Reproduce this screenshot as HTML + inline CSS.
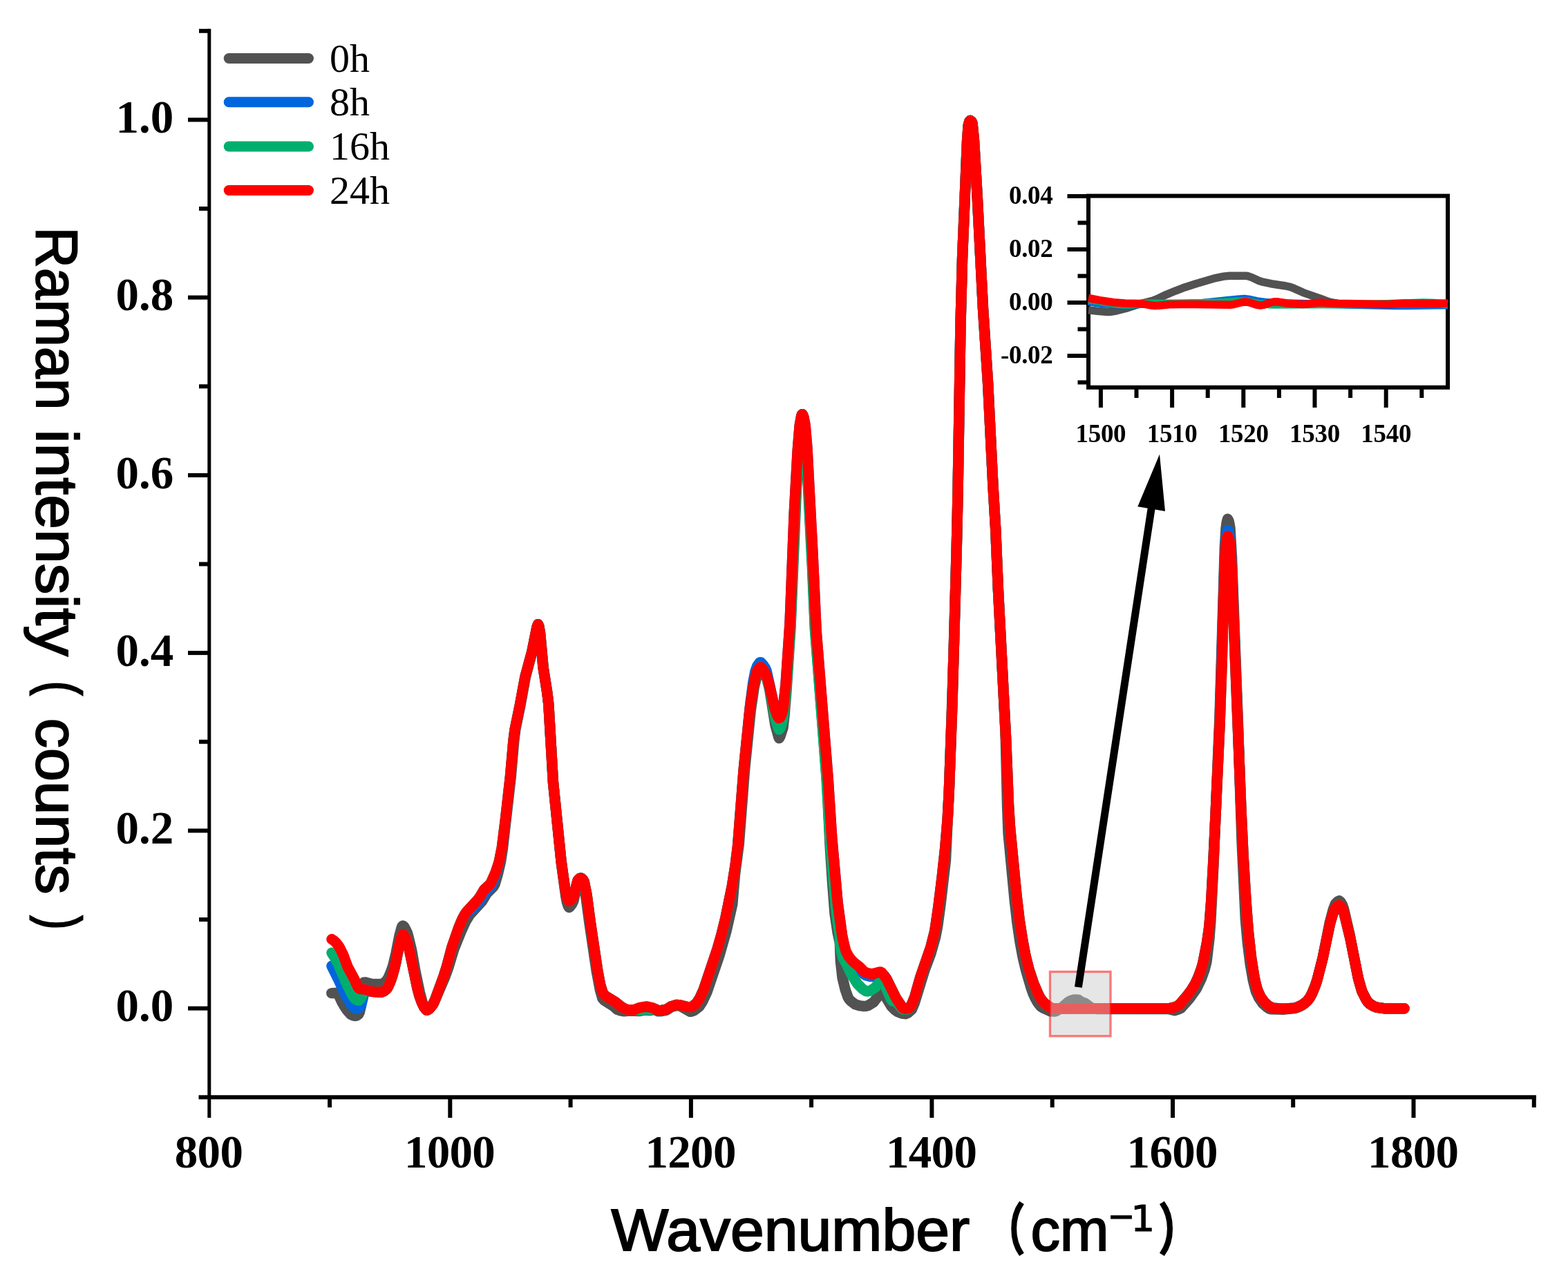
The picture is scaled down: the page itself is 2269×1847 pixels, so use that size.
<!DOCTYPE html>
<html lang="en"><head><meta charset="utf-8"><title>Raman spectra</title>
<style>
html,body{margin:0;padding:0;background:#fff;}
body{width:2269px;height:1847px;overflow:hidden;}
svg{display:block;}
.ax{stroke:#000;fill:none;stroke-linecap:butt;}
.tl{font-family:"Liberation Serif","Noto Serif CJK SC",serif;font-weight:bold;font-size:67px;letter-spacing:-0.7px;fill:#000;}
.il{font-family:"Liberation Serif","Noto Serif CJK SC",serif;font-weight:bold;font-size:37px;letter-spacing:-0.3px;fill:#000;}
.lg{font-family:"Liberation Serif","Noto Serif CJK SC",serif;font-weight:normal;font-size:58px;fill:#000;}
.ti{font-family:"Liberation Sans","Noto Sans CJK SC",sans-serif;font-size:84px;fill:#000;}
.cv{fill:none;stroke-width:15.4;stroke-linejoin:round;stroke-linecap:round;}
.ic{fill:none;stroke-width:11.5;stroke-linejoin:round;stroke-linecap:butt;}
</style></head><body>
<svg width="2269" height="1847" viewBox="0 0 2269 1847">
<rect x="0" y="0" width="2269" height="1847" fill="#ffffff"/>

<g class="ax" stroke-width="5">
<line x1="302.8" y1="41.8" x2="302.8" y2="1618"/>
</g><g class="ax" stroke-width="6">
<line x1="287.5" y1="1588.2" x2="2223" y2="1588.2"/>
<line x1="272" y1="1459.6" x2="302.8" y2="1459.6"/>
<line x1="288" y1="1331.0" x2="302.8" y2="1331.0"/>
<line x1="272" y1="1202.4" x2="302.8" y2="1202.4"/>
<line x1="288" y1="1073.7" x2="302.8" y2="1073.7"/>
<line x1="272" y1="945.1" x2="302.8" y2="945.1"/>
<line x1="288" y1="816.5" x2="302.8" y2="816.5"/>
<line x1="272" y1="687.9" x2="302.8" y2="687.9"/>
<line x1="288" y1="559.3" x2="302.8" y2="559.3"/>
<line x1="272" y1="430.6" x2="302.8" y2="430.6"/>
<line x1="288" y1="302.0" x2="302.8" y2="302.0"/>
<line x1="272" y1="173.4" x2="302.8" y2="173.4"/>
<line x1="288" y1="44.8" x2="302.8" y2="44.8"/>
<line x1="477.1" y1="1588.2" x2="477.1" y2="1603"/>
<line x1="651.3" y1="1588.2" x2="651.3" y2="1618"/>
<line x1="825.6" y1="1588.2" x2="825.6" y2="1603"/>
<line x1="999.9" y1="1588.2" x2="999.9" y2="1618"/>
<line x1="1174.1" y1="1588.2" x2="1174.1" y2="1603"/>
<line x1="1348.4" y1="1588.2" x2="1348.4" y2="1618"/>
<line x1="1522.7" y1="1588.2" x2="1522.7" y2="1603"/>
<line x1="1697.0" y1="1588.2" x2="1697.0" y2="1618"/>
<line x1="1871.2" y1="1588.2" x2="1871.2" y2="1603"/>
<line x1="2045.5" y1="1588.2" x2="2045.5" y2="1618"/>
<line x1="2219.8" y1="1588.2" x2="2219.8" y2="1603"/>
</g>
<g class="tl" text-anchor="end" style="letter-spacing:0">
<text x="251.3" y="1478.2">0.0</text>
<text x="251.3" y="1221.0">0.2</text>
<text x="251.3" y="963.7">0.4</text>
<text x="251.3" y="706.5">0.6</text>
<text x="251.3" y="449.2">0.8</text>
<text x="251.3" y="192.0">1.0</text>
</g><g class="tl" text-anchor="middle">
<text x="302.0" y="1690.2">800</text>
<text x="650.5" y="1690.2">1000</text>
<text x="999.1" y="1690.2">1200</text>
<text x="1347.6" y="1690.2">1400</text>
<text x="1696.2" y="1690.2">1600</text>
<text x="2044.7" y="1690.2">1800</text>
</g>
<g id="ytitle">
<text transform="translate(52.6,328.4) rotate(90) scale(0.9679,1)" style='font-family:"Liberation Sans","Noto Sans CJK SC",sans-serif;font-size:85px;stroke:#000;stroke-width:2px;fill:#000;'>Raman</text>
<text transform="translate(52.6,621.6) rotate(90) scale(1.0534,1)" style='font-family:"Liberation Sans","Noto Sans CJK SC",sans-serif;font-size:85px;stroke:#000;stroke-width:2px;fill:#000;'>intensity</text>
<text transform="translate(60.5,986.2) rotate(90) scale(0.7423,1)" style='font-family:"Liberation Sans","Noto Sans CJK SC",sans-serif;font-size:80px;stroke:#000;stroke-width:3px;fill:#000;'>(</text>
<text transform="translate(52.6,1039.6) rotate(90) scale(1.0186,1)" style='font-family:"Liberation Sans","Noto Sans CJK SC",sans-serif;font-size:85px;stroke:#000;stroke-width:2px;fill:#000;'>counts</text>
<text transform="translate(60.5,1326.0) rotate(90) scale(0.7148,1)" style='font-family:"Liberation Sans","Noto Sans CJK SC",sans-serif;font-size:80px;stroke:#000;stroke-width:3px;fill:#000;'>)</text>
</g><g id="xtitle">
<text transform="translate(884.6,1809.8) scale(1.0328,1)" style='font-family:"Liberation Sans","Noto Sans CJK SC",sans-serif;font-size:85px;stroke:#000;stroke-width:2px;fill:#000;'>Wavenumber</text>
<text transform="translate(1426.0,1807.5) scale(0.7154,1)" style='font-family:"Liberation Sans","Noto Sans CJK SC",sans-serif;font-size:80px;font-weight:bold;stroke:#000;stroke-width:2px;fill:#000;'>（</text>
<text transform="translate(1491.4,1809.8) scale(0.9991,1)" style='font-family:"Liberation Sans","Noto Sans CJK SC",sans-serif;font-size:85px;stroke:#000;stroke-width:2px;fill:#000;'>cm</text>
<text transform="translate(1602.4,1777.5) scale(0.9176,1)" style='font-family:"DejaVu Sans",sans-serif;font-size:52px;stroke:#000;stroke-width:1px;fill:#000;'>−</text>
<text transform="translate(1636.3,1782.0) scale(1.0583,1)" style='font-family:"DejaVu Sans",sans-serif;font-size:52px;stroke:#000;stroke-width:1px;fill:#000;'>1</text>
<text transform="translate(1676.4,1807.5) scale(0.7346,1)" style='font-family:"Liberation Sans","Noto Sans CJK SC",sans-serif;font-size:80px;font-weight:bold;stroke:#000;stroke-width:2px;fill:#000;'>）</text>
</g>
<line x1="331.2" y1="84.5" x2="446.5" y2="84.5" stroke="#525252" stroke-width="15" stroke-linecap="round"/>
<text class="lg" x="477" y="103.8">0h</text>
<line x1="331.2" y1="147.8" x2="446.5" y2="147.8" stroke="#0066DD" stroke-width="15" stroke-linecap="round"/>
<text class="lg" x="477" y="167.1">8h</text>
<line x1="331.2" y1="212.0" x2="446.5" y2="212.0" stroke="#00AF6E" stroke-width="15" stroke-linecap="round"/>
<text class="lg" x="477" y="231.3">16h</text>
<line x1="331.2" y1="275.5" x2="446.5" y2="275.5" stroke="#FF0000" stroke-width="15" stroke-linecap="round"/>
<text class="lg" x="477" y="294.8">24h</text>
<path class="cv" stroke="#525252" d="M479.8,1437.6 L488.1,1437.3 L489.1,1437.9 L494.6,1450.2 L498.1,1456.2 L501.8,1461.8 L507.6,1468.3 L510.8,1469.9 L514.0,1470.6 L516.3,1470.0 L518.8,1468.2 L520.3,1465.3 L522.0,1457.7 L524.0,1436.7 L527.0,1422.0 L529.0,1421.8 L538.3,1424.4 L552.0,1424.3 L554.5,1423.3 L558.5,1420.5 L562.0,1415.3 L566.0,1405.8 L568.8,1397.5 L573.0,1379.8 L577.8,1355.3 L581.0,1343.2 L582.0,1340.8 L583.0,1339.9 L584.8,1341.3 L587.0,1345.2 L589.3,1350.1 L591.0,1356.0 L595.8,1376.1 L601.0,1405.8 L607.3,1435.9 L610.8,1449.2 L613.8,1458.0 L616.8,1461.9 L618.8,1461.9 L622.5,1458.9 L627.5,1452.4 L643.8,1414.5 L648.8,1400.7 L657.0,1373.6 L667.3,1348.2 L673.8,1333.8 L680.0,1323.7 L697.3,1304.9 L704.5,1293.0 L714.0,1283.5 L716.0,1280.0 L720.3,1265.6 L724.5,1247.6 L727.5,1228.0 L739.3,1124.9 L743.8,1072.5 L746.0,1055.2 L753.0,1021.2 L760.5,979.8 L770.3,942.9 L777.3,907.9 L778.8,903.6 L780.0,906.8 L781.8,917.3 L786.3,966.7 L791.8,1002.0 L793.8,1018.6 L800.5,1133.2 L812.5,1251.1 L818.8,1297.9 L820.3,1305.5 L822.0,1311.0 L823.3,1313.5 L824.5,1312.9 L827.3,1309.2 L829.8,1304.2 L836.3,1277.0 L838.3,1273.7 L840.0,1272.6 L841.8,1273.6 L843.5,1276.5 L847.5,1296.0 L852.8,1335.4 L863.3,1406.4 L868.3,1432.9 L871.8,1445.2 L874.8,1448.3 L887.8,1456.6 L893.0,1461.2 L896.8,1462.6 L903.3,1463.9 L910.0,1463.0 L926.0,1463.5 L933.5,1462.0 L940.0,1462.6 L945.5,1461.6 L948.0,1461.8 L952.5,1463.9 L956.8,1463.8 L964.0,1462.4 L971.5,1457.8 L977.0,1456.0 L980.5,1455.6 L985.0,1456.6 L999.0,1464.4 L1001.8,1463.8 L1004.8,1462.4 L1012.0,1456.8 L1016.8,1449.3 L1023.0,1436.0 L1041.0,1383.1 L1050.8,1348.7 L1059.8,1309.0 L1063.5,1266.3 L1069.3,1222.0 L1077.5,1115.8 L1086.3,1028.5 L1091.3,994.3 L1097.0,971.0 L1099.3,966.2 L1100.0,965.6 L1101.0,965.8 L1104.0,968.7 L1108.0,975.4 L1113.8,998.7 L1121.8,1048.9 L1126.8,1067.2 L1127.5,1068.5 L1129.0,1065.8 L1133.0,1053.6 L1135.0,1036.4 L1138.0,1000.2 L1144.0,909.6 L1152.5,707.8 L1157.3,630.9 L1160.3,602.4 L1161.0,599.7 L1164.0,617.9 L1166.8,653.7 L1175.5,823.7 L1179.3,909.7 L1196.8,1134.2 L1201.0,1223.2 L1204.3,1274.5 L1208.0,1322.6 L1212.0,1349.4 L1215.3,1364.5 L1216.3,1390.7 L1219.0,1415.2 L1223.3,1432.8 L1227.0,1443.4 L1228.5,1446.0 L1231.8,1449.6 L1237.8,1453.9 L1243.5,1455.6 L1249.3,1456.5 L1253.0,1456.4 L1256.5,1455.3 L1263.8,1450.9 L1274.0,1437.9 L1275.8,1436.9 L1278.0,1438.4 L1282.0,1443.5 L1290.0,1456.9 L1294.5,1461.4 L1298.5,1464.3 L1305.5,1467.2 L1310.3,1467.7 L1314.3,1465.9 L1319.3,1461.4 L1323.3,1452.1 L1337.8,1404.9 L1347.0,1380.2 L1353.8,1356.1 L1356.8,1340.3 L1361.0,1309.6 L1368.5,1245.3 L1373.8,1133.8 L1381.0,917.8 L1385.5,742.9 L1390.0,467.4 L1392.8,365.9 L1399.5,204.2 L1401.3,181.2 L1402.8,175.6 L1404.0,174.4 L1406.0,176.1 L1407.0,178.6 L1409.5,204.1 L1414.3,285.0 L1422.5,447.3 L1430.0,562.6 L1437.0,704.1 L1440.5,763.0 L1444.5,855.3 L1455.0,1058.9 L1457.5,1165.2 L1459.0,1206.3 L1468.3,1304.2 L1472.0,1336.5 L1476.0,1363.6 L1479.8,1384.2 L1484.5,1404.2 L1491.8,1429.1 L1495.0,1438.2 L1498.0,1444.7 L1501.5,1451.0 L1506.0,1456.8 L1511.0,1459.8 L1519.8,1463.7 L1526.3,1464.1 L1528.0,1463.6 L1536.8,1458.2 L1545.3,1450.8 L1549.5,1448.4 L1554.0,1447.0 L1560.3,1447.2 L1564.3,1449.9 L1570.3,1452.2 L1579.3,1458.9 L1587.5,1460.5 L1690.0,1460.3 L1700.0,1462.7 L1706.0,1460.7 L1708.8,1459.3 L1721.3,1445.3 L1731.5,1431.0 L1738.5,1416.4 L1743.0,1403.9 L1746.0,1392.3 L1750.0,1358.7 L1752.0,1332.5 L1756.0,1252.9 L1765.0,1035.0 L1772.3,792.4 L1774.0,764.9 L1775.3,755.7 L1776.5,751.1 L1778.3,754.9 L1780.0,764.2 L1782.5,805.8 L1791.3,1042.9 L1797.0,1218.0 L1802.3,1330.7 L1805.3,1364.3 L1809.3,1396.5 L1813.3,1419.2 L1817.3,1434.8 L1821.5,1444.2 L1827.3,1452.5 L1833.0,1457.6 L1837.0,1460.1 L1839.5,1460.9 L1858.3,1461.2 L1873.3,1459.7 L1878.0,1458.2 L1884.0,1455.3 L1888.0,1452.4 L1892.0,1448.6 L1895.5,1444.1 L1898.8,1437.9 L1903.5,1426.2 L1906.5,1416.6 L1914.0,1387.1 L1924.0,1336.3 L1929.3,1316.3 L1932.5,1308.2 L1935.8,1304.8 L1938.0,1303.9 L1939.8,1305.4 L1942.3,1309.3 L1944.5,1315.5 L1952.8,1351.4 L1964.8,1413.6 L1970.5,1434.0 L1976.3,1445.9 L1979.0,1449.9 L1981.8,1452.7 L1987.3,1456.3 L1992.0,1458.2 L2004.3,1459.8 L2032.0,1459.8"/>
<path class="cv" stroke="#0066DD" d="M480.0,1398.2 L489.2,1416.7 L499.2,1438.4 L506.5,1451.7 L509.0,1455.0 L513.5,1459.0 L516.0,1460.0 L518.2,1459.5 L521.5,1457.0 L522.8,1454.8 L528.0,1432.1 L538.0,1435.4 L551.8,1436.2 L556.5,1434.1 L559.0,1432.2 L560.8,1429.8 L564.2,1422.6 L568.2,1411.7 L572.8,1393.6 L578.0,1367.0 L581.2,1355.1 L582.5,1352.7 L583.5,1352.6 L585.0,1354.0 L586.8,1357.0 L590.0,1365.4 L594.2,1383.5 L604.0,1430.7 L607.0,1441.9 L610.5,1451.4 L613.8,1458.0 L617.2,1462.2 L618.8,1461.9 L620.8,1460.7 L626.0,1454.6 L630.0,1445.9 L641.8,1413.8 L646.5,1399.0 L654.2,1370.3 L663.8,1342.7 L668.5,1331.5 L670.2,1328.0 L674.5,1322.6 L678.2,1319.3 L684.0,1315.4 L692.8,1306.1 L696.5,1301.2 L702.5,1291.0 L710.2,1283.6 L714.5,1274.4 L722.0,1249.9 L726.5,1228.1 L731.5,1187.5 L738.5,1123.4 L743.0,1071.3 L745.0,1056.2 L752.2,1021.4 L760.0,979.4 L769.8,943.2 L777.0,907.6 L778.5,903.6 L779.8,906.9 L781.5,917.3 L786.0,966.1 L791.8,1002.6 L793.8,1019.1 L800.5,1132.6 L812.0,1245.9 L817.5,1285.3 L820.5,1299.4 L822.8,1304.1 L824.2,1304.5 L827.0,1302.3 L829.8,1298.2 L836.2,1274.2 L838.8,1271.5 L840.8,1270.9 L843.2,1272.8 L845.2,1276.1 L849.0,1294.7 L854.2,1334.0 L864.8,1405.1 L868.5,1425.0 L872.0,1436.3 L873.5,1439.0 L876.0,1441.5 L890.2,1450.2 L898.5,1457.0 L904.8,1460.7 L909.8,1461.7 L915.5,1462.1 L918.0,1461.7 L926.0,1463.0 L933.2,1461.5 L940.0,1462.1 L944.5,1460.8 L947.8,1460.6 L952.2,1462.6 L956.5,1462.6 L964.2,1461.2 L971.2,1456.8 L979.0,1454.5 L982.2,1454.6 L994.2,1457.5 L999.8,1457.8 L1003.2,1456.0 L1008.2,1451.7 L1012.8,1444.4 L1018.5,1431.8 L1038.5,1372.2 L1044.0,1352.7 L1049.8,1329.4 L1059.5,1281.7 L1064.2,1251.8 L1067.5,1225.0 L1076.2,1113.5 L1086.0,1016.7 L1089.8,987.7 L1093.0,971.5 L1095.5,964.5 L1099.2,959.2 L1100.2,958.7 L1101.2,959.0 L1104.2,962.2 L1107.5,967.2 L1109.2,971.1 L1120.8,1024.2 L1124.5,1035.4 L1126.8,1039.2 L1127.5,1039.5 L1128.5,1039.0 L1131.0,1034.6 L1133.0,1027.8 L1137.0,990.6 L1143.0,902.0 L1149.2,743.2 L1154.2,652.1 L1157.2,615.6 L1159.5,602.8 L1160.2,600.4 L1161.0,599.7 L1162.0,601.0 L1163.0,604.1 L1165.2,615.4 L1168.0,648.4 L1176.2,804.0 L1181.2,913.1 L1198.2,1126.7 L1203.8,1212.6 L1212.2,1307.0 L1218.5,1353.5 L1222.0,1370.3 L1224.5,1379.5 L1229.0,1389.3 L1232.8,1394.2 L1236.5,1397.8 L1244.2,1403.8 L1250.5,1410.3 L1253.0,1411.8 L1258.5,1413.3 L1263.0,1413.7 L1270.0,1411.6 L1274.2,1409.2 L1275.8,1409.4 L1277.5,1410.4 L1280.0,1412.6 L1282.8,1416.6 L1296.2,1443.9 L1305.2,1457.4 L1307.5,1459.6 L1309.5,1460.3 L1315.0,1459.4 L1317.0,1457.7 L1319.8,1452.7 L1323.8,1442.9 L1331.5,1415.2 L1347.0,1370.5 L1352.8,1347.5 L1358.2,1310.2 L1363.2,1269.3 L1367.8,1227.1 L1371.2,1185.1 L1373.2,1147.8 L1378.0,1018.5 L1384.2,797.5 L1386.2,706.0 L1390.0,469.9 L1392.5,375.0 L1399.5,205.1 L1401.2,181.6 L1402.8,175.7 L1404.0,174.4 L1405.8,175.7 L1407.0,178.3 L1409.5,203.4 L1414.2,284.1 L1422.5,446.5 L1429.5,552.5 L1437.0,703.1 L1440.8,767.0 L1444.2,849.1 L1455.8,1071.9 L1459.5,1164.7 L1461.5,1197.3 L1471.0,1296.1 L1475.2,1331.9 L1479.8,1361.3 L1484.0,1383.4 L1489.2,1403.9 L1495.8,1423.7 L1502.8,1440.1 L1506.2,1446.2 L1512.0,1452.8 L1519.5,1458.1 L1524.2,1460.0 L1693.5,1459.4 L1698.2,1458.4 L1703.8,1456.4 L1707.2,1453.7 L1718.0,1441.1 L1724.5,1432.3 L1729.5,1424.1 L1733.8,1414.8 L1738.0,1403.4 L1740.8,1394.0 L1747.0,1361.8 L1750.0,1339.3 L1752.8,1303.2 L1758.0,1203.1 L1765.0,1046.5 L1772.2,808.8 L1774.0,781.1 L1775.2,772.1 L1776.5,767.6 L1777.2,768.1 L1778.2,770.7 L1780.0,779.2 L1782.2,814.1 L1795.8,1167.2 L1799.0,1236.3 L1802.8,1299.5 L1806.0,1344.0 L1810.2,1383.7 L1814.5,1411.4 L1817.2,1424.5 L1819.8,1433.2 L1824.2,1443.1 L1830.0,1451.1 L1836.2,1456.4 L1842.2,1459.3 L1856.8,1460.3 L1873.2,1459.1 L1878.0,1457.6 L1884.0,1454.8 L1891.5,1448.9 L1895.0,1444.7 L1898.2,1438.8 L1903.0,1427.5 L1905.8,1419.2 L1914.0,1387.3 L1924.5,1337.4 L1929.0,1321.7 L1932.5,1313.6 L1935.5,1311.0 L1938.0,1310.3 L1940.0,1311.6 L1942.5,1315.0 L1944.8,1321.0 L1953.8,1357.8 L1965.8,1417.4 L1971.0,1435.2 L1976.8,1446.6 L1979.5,1450.5 L1982.2,1453.1 L1987.5,1456.4 L1992.2,1458.2 L2004.2,1459.8 L2032.0,1459.8"/>
<path class="cv" stroke="#00AF6E" d="M480.0,1379.2 L484.8,1386.7 L489.5,1395.8 L503.8,1428.6 L510.0,1440.8 L513.2,1445.2 L516.8,1447.4 L519.2,1448.0 L521.0,1446.4 L523.8,1441.6 L527.0,1431.9 L538.0,1435.4 L551.5,1436.2 L555.8,1434.6 L560.2,1430.6 L564.0,1423.2 L568.2,1411.7 L572.8,1393.6 L577.0,1371.3 L579.8,1360.2 L582.0,1353.4 L582.8,1352.6 L583.8,1352.7 L585.5,1354.7 L587.8,1359.0 L590.0,1365.4 L594.2,1383.5 L603.8,1429.7 L606.8,1441.1 L610.2,1450.8 L613.8,1458.0 L617.2,1462.2 L618.8,1461.9 L620.8,1460.7 L625.8,1455.0 L629.8,1446.5 L641.8,1413.8 L646.5,1399.0 L654.2,1370.3 L663.8,1342.7 L668.5,1331.5 L672.2,1324.2 L675.5,1319.4 L691.5,1302.2 L694.5,1298.2 L700.5,1288.0 L708.0,1281.0 L710.5,1277.8 L717.0,1263.2 L722.0,1248.3 L726.2,1227.5 L731.2,1187.7 L738.5,1123.0 L742.8,1073.9 L745.0,1056.2 L752.2,1021.4 L760.0,979.4 L769.8,943.2 L777.0,907.6 L778.5,903.6 L779.8,906.9 L781.5,917.3 L786.0,966.1 L791.8,1002.6 L793.8,1019.1 L800.5,1132.6 L812.0,1245.9 L817.5,1285.3 L820.5,1299.4 L822.8,1304.1 L824.2,1304.5 L827.0,1302.3 L829.8,1298.2 L836.2,1274.2 L838.8,1271.5 L840.8,1270.9 L843.2,1272.8 L845.2,1276.1 L849.0,1294.7 L854.2,1334.0 L864.8,1405.1 L868.5,1425.0 L872.0,1436.3 L873.5,1439.0 L876.0,1441.5 L890.2,1450.2 L898.5,1457.0 L904.8,1460.7 L909.8,1461.7 L915.5,1462.1 L918.0,1461.7 L926.0,1462.5 L933.5,1461.0 L940.0,1461.6 L946.0,1460.5 L948.0,1460.6 L952.5,1462.7 L956.5,1462.6 L964.2,1461.2 L971.2,1456.8 L979.0,1454.5 L982.2,1454.6 L994.2,1457.5 L999.8,1457.8 L1003.2,1456.0 L1008.0,1452.0 L1012.8,1444.4 L1018.5,1431.8 L1038.2,1373.1 L1043.8,1353.6 L1049.5,1330.5 L1059.2,1283.2 L1064.0,1253.5 L1067.5,1225.0 L1076.2,1113.5 L1085.0,1026.7 L1089.5,996.0 L1094.5,974.6 L1096.8,969.2 L1099.0,966.2 L1100.5,965.6 L1103.5,967.9 L1108.0,975.2 L1113.8,995.6 L1122.0,1040.7 L1126.8,1055.0 L1127.5,1056.0 L1129.2,1053.3 L1133.0,1041.5 L1137.5,999.2 L1144.0,902.0 L1150.2,743.2 L1155.0,655.9 L1157.8,619.9 L1160.0,602.8 L1161.0,599.7 L1162.2,603.7 L1164.5,617.8 L1167.0,650.3 L1175.8,822.5 L1179.5,909.9 L1195.8,1123.8 L1201.5,1220.3 L1208.8,1305.9 L1211.5,1329.8 L1215.0,1352.5 L1215.5,1365.6 L1216.8,1374.7 L1220.0,1386.6 L1224.2,1394.0 L1232.2,1410.7 L1240.8,1424.1 L1248.5,1431.8 L1253.2,1434.7 L1255.2,1435.0 L1257.8,1434.5 L1261.2,1432.8 L1266.8,1429.1 L1272.5,1422.4 L1273.8,1421.9 L1276.0,1422.4 L1279.2,1424.2 L1280.5,1425.9 L1289.0,1445.3 L1291.0,1448.5 L1292.0,1449.0 L1292.5,1440.8 L1298.5,1451.3 L1303.8,1458.1 L1306.2,1460.5 L1308.2,1461.4 L1311.0,1461.0 L1315.0,1459.8 L1316.8,1458.1 L1319.8,1452.7 L1323.8,1442.9 L1331.5,1415.2 L1346.8,1371.3 L1352.5,1348.8 L1356.5,1323.2 L1363.0,1271.5 L1367.5,1229.7 L1371.2,1185.1 L1373.2,1147.8 L1378.0,1018.5 L1384.2,797.5 L1386.2,706.0 L1390.0,469.9 L1392.5,375.0 L1399.5,205.1 L1401.2,181.6 L1402.8,175.7 L1404.0,174.4 L1405.8,175.7 L1407.0,178.3 L1409.5,203.4 L1414.2,284.1 L1422.5,446.5 L1429.5,552.5 L1437.0,703.1 L1440.8,767.0 L1444.2,849.1 L1455.8,1071.9 L1459.5,1164.7 L1461.5,1197.3 L1471.0,1296.1 L1475.2,1331.9 L1479.8,1361.3 L1484.0,1383.4 L1489.2,1403.9 L1495.8,1423.7 L1502.8,1440.1 L1506.2,1446.2 L1512.0,1452.8 L1519.5,1458.1 L1524.2,1460.0 L1693.2,1459.4 L1698.0,1458.4 L1703.2,1456.6 L1707.2,1453.7 L1718.0,1441.1 L1724.5,1432.3 L1729.5,1424.1 L1733.5,1415.4 L1737.8,1404.1 L1740.8,1394.0 L1746.5,1364.7 L1749.8,1341.8 L1752.5,1307.0 L1756.0,1244.7 L1765.0,1050.7 L1768.0,965.0 L1772.2,816.1 L1774.0,788.9 L1775.2,780.2 L1776.5,776.0 L1777.2,776.4 L1778.2,778.7 L1780.0,786.7 L1782.2,820.9 L1796.0,1173.1 L1799.2,1241.0 L1803.2,1307.1 L1806.5,1349.5 L1810.8,1387.6 L1815.2,1415.3 L1817.8,1426.5 L1820.0,1433.9 L1824.2,1443.1 L1830.0,1451.1 L1836.2,1456.4 L1842.2,1459.3 L1856.8,1460.3 L1873.2,1459.1 L1878.0,1457.6 L1884.0,1454.8 L1888.0,1452.1 L1891.8,1448.6 L1895.2,1444.3 L1898.5,1438.3 L1903.2,1426.8 L1906.0,1418.4 L1914.0,1387.3 L1924.5,1337.4 L1929.0,1321.7 L1932.5,1313.6 L1935.5,1311.0 L1938.0,1310.3 L1940.0,1311.6 L1942.5,1315.0 L1944.8,1321.0 L1953.8,1357.8 L1965.8,1417.4 L1971.0,1435.2 L1976.8,1446.6 L1979.5,1450.5 L1982.2,1453.1 L1987.5,1456.4 L1992.2,1458.2 L2004.2,1459.8 L2032.0,1459.8"/>
<path class="cv" stroke="#FF0000" d="M480.0,1359.5 L483.0,1361.4 L486.2,1364.5 L489.2,1368.1 L492.0,1372.5 L497.0,1382.9 L503.2,1399.8 L512.2,1416.3 L517.0,1426.9 L519.2,1430.5 L520.5,1431.3 L528.8,1432.3 L538.0,1435.4 L551.8,1436.2 L555.5,1434.8 L559.8,1431.3 L562.5,1426.6 L566.0,1418.2 L571.0,1401.1 L577.2,1370.1 L580.0,1359.3 L582.0,1353.4 L582.8,1352.6 L583.8,1352.7 L587.2,1358.0 L590.0,1365.4 L594.2,1383.5 L603.8,1429.7 L606.8,1441.1 L610.2,1450.8 L613.8,1458.0 L617.2,1462.2 L619.0,1461.8 L620.8,1460.7 L625.8,1455.0 L629.8,1446.5 L641.8,1413.8 L646.5,1399.0 L654.2,1370.3 L663.8,1342.7 L668.5,1331.5 L672.2,1324.2 L675.5,1319.4 L691.5,1302.2 L694.5,1298.2 L700.5,1288.0 L708.0,1281.0 L710.5,1277.8 L717.0,1263.2 L722.0,1248.3 L726.2,1227.5 L731.2,1187.7 L738.5,1123.0 L742.8,1073.9 L745.0,1056.2 L752.2,1021.4 L760.0,979.4 L769.8,943.2 L777.0,907.6 L778.5,903.6 L779.8,906.9 L781.5,917.3 L786.0,966.1 L791.8,1002.6 L793.8,1019.1 L800.5,1132.6 L812.0,1245.9 L817.5,1285.3 L820.5,1299.4 L822.5,1303.8 L823.2,1304.5 L824.2,1304.5 L827.0,1302.3 L829.8,1298.2 L835.5,1275.9 L836.5,1273.8 L838.8,1271.5 L840.8,1271.0 L843.2,1272.8 L845.2,1276.1 L849.0,1294.7 L854.2,1334.0 L864.8,1405.1 L868.5,1425.0 L872.0,1436.3 L873.5,1439.0 L876.0,1441.5 L890.2,1450.2 L898.2,1456.8 L904.8,1460.7 L909.8,1461.7 L916.8,1462.0 L925.2,1458.7 L935.5,1456.9 L944.2,1458.7 L952.0,1462.6 L956.5,1462.6 L964.2,1461.2 L971.2,1456.8 L979.0,1454.5 L982.2,1454.6 L994.2,1457.5 L999.8,1457.8 L1003.2,1456.0 L1008.0,1452.0 L1012.8,1444.4 L1018.5,1431.8 L1038.2,1373.1 L1043.8,1353.6 L1049.5,1330.5 L1059.2,1283.2 L1064.2,1251.8 L1067.8,1222.5 L1076.0,1116.3 L1085.0,1026.7 L1089.5,996.0 L1094.2,975.4 L1096.2,970.0 L1099.2,966.0 L1101.2,965.8 L1104.0,968.6 L1108.0,975.2 L1112.5,988.1 L1121.2,1026.3 L1125.0,1036.5 L1127.0,1039.4 L1128.8,1038.8 L1131.2,1033.9 L1133.0,1027.8 L1137.0,990.6 L1143.0,902.0 L1149.2,743.2 L1154.2,652.0 L1157.2,615.5 L1159.5,602.8 L1160.2,600.4 L1161.0,599.7 L1162.8,603.2 L1165.2,615.4 L1168.0,648.4 L1176.2,804.0 L1181.2,913.1 L1198.2,1126.7 L1203.8,1212.6 L1212.2,1307.0 L1218.5,1353.5 L1221.5,1367.5 L1224.2,1377.0 L1228.0,1384.2 L1232.8,1390.2 L1236.5,1393.8 L1244.2,1399.8 L1250.2,1406.0 L1252.8,1407.7 L1258.2,1409.2 L1262.5,1409.7 L1272.8,1407.0 L1274.5,1407.0 L1276.0,1407.9 L1282.5,1416.2 L1296.2,1443.9 L1305.2,1457.4 L1307.5,1459.6 L1309.2,1460.3 L1315.0,1459.4 L1316.8,1458.0 L1319.5,1453.2 L1323.8,1442.9 L1331.5,1415.2 L1347.0,1370.5 L1352.8,1347.5 L1358.2,1310.2 L1363.2,1269.3 L1367.8,1227.1 L1371.2,1185.1 L1373.2,1147.8 L1378.0,1018.5 L1384.2,797.5 L1386.2,706.0 L1390.0,469.9 L1392.5,375.0 L1399.8,200.7 L1401.2,181.5 L1402.8,175.7 L1404.0,174.4 L1405.8,175.7 L1407.0,178.3 L1409.5,203.4 L1414.2,284.1 L1422.5,446.5 L1429.5,552.5 L1437.0,703.1 L1440.8,767.0 L1444.5,854.3 L1455.8,1071.9 L1459.5,1164.7 L1461.5,1197.3 L1471.0,1296.1 L1475.2,1331.9 L1479.8,1361.3 L1484.0,1383.4 L1489.2,1403.9 L1495.8,1423.7 L1502.8,1440.1 L1506.2,1446.2 L1512.0,1452.8 L1519.5,1458.1 L1524.2,1460.0 L1693.2,1459.4 L1698.0,1458.4 L1703.2,1456.6 L1707.2,1453.7 L1718.0,1441.1 L1724.5,1432.3 L1729.2,1424.5 L1733.5,1415.4 L1737.8,1404.1 L1740.8,1394.0 L1746.5,1364.7 L1749.8,1341.8 L1752.5,1307.0 L1756.0,1244.7 L1765.0,1050.7 L1768.0,965.0 L1772.2,815.7 L1774.2,786.5 L1775.8,777.8 L1776.8,776.0 L1778.5,779.5 L1780.0,786.7 L1782.2,820.9 L1796.0,1173.1 L1799.2,1241.0 L1803.2,1307.1 L1806.5,1349.5 L1810.8,1387.6 L1815.2,1415.3 L1817.8,1426.5 L1820.0,1433.9 L1824.2,1443.1 L1830.0,1451.1 L1836.2,1456.4 L1842.2,1459.3 L1857.0,1460.3 L1873.2,1459.1 L1878.0,1457.6 L1884.0,1454.8 L1888.0,1452.1 L1891.8,1448.6 L1895.2,1444.3 L1898.5,1438.3 L1903.2,1426.8 L1906.0,1418.4 L1914.0,1387.3 L1924.5,1337.4 L1929.0,1321.7 L1932.5,1313.6 L1935.5,1311.0 L1938.0,1310.3 L1940.0,1311.6 L1942.5,1315.0 L1944.8,1321.0 L1953.8,1357.8 L1965.8,1417.4 L1971.0,1435.2 L1976.8,1446.6 L1979.5,1450.5 L1982.2,1453.1 L1987.5,1456.4 L1992.2,1458.2 L2004.2,1459.8 L2032.0,1459.8"/>
<rect x="1519.45" y="1406.55" width="87.6" height="93.2" fill="#cacaca" fill-opacity="0.475" stroke="#ff0000" stroke-opacity="0.5" stroke-width="3.3"/>
<line x1="1560.4" y1="1429" x2="1667.5" y2="727" stroke="#000" stroke-width="11"/>
<polygon points="1678,657.5 1646.3,733.3 1686,739.9" fill="#000"/>
<g class="ax" stroke-width="6">
<rect x="1575" y="283.6" width="520" height="277.2" fill="#ffffff"/>
<line x1="1544.5" y1="284.0" x2="1575" y2="284.0"/>
<line x1="1559.5" y1="322.5" x2="1575" y2="322.5"/>
<line x1="1544.5" y1="361.0" x2="1575" y2="361.0"/>
<line x1="1559.5" y1="399.5" x2="1575" y2="399.5"/>
<line x1="1544.5" y1="438.0" x2="1575" y2="438.0"/>
<line x1="1559.5" y1="476.5" x2="1575" y2="476.5"/>
<line x1="1544.5" y1="515.0" x2="1575" y2="515.0"/>
<line x1="1559.5" y1="553.5" x2="1575" y2="553.5"/>
<line x1="1592.9" y1="560.8" x2="1592.9" y2="590"/>
<line x1="1644.5" y1="560.8" x2="1644.5" y2="576"/>
<line x1="1696.1" y1="560.8" x2="1696.1" y2="590"/>
<line x1="1747.7" y1="560.8" x2="1747.7" y2="576"/>
<line x1="1799.3" y1="560.8" x2="1799.3" y2="590"/>
<line x1="1850.9" y1="560.8" x2="1850.9" y2="576"/>
<line x1="1902.5" y1="560.8" x2="1902.5" y2="590"/>
<line x1="1954.1" y1="560.8" x2="1954.1" y2="576"/>
<line x1="2005.7" y1="560.8" x2="2005.7" y2="590"/>
<line x1="2057.3" y1="560.8" x2="2057.3" y2="576"/>
</g>
<g class="il" text-anchor="end">
<text x="1523.5" y="295.0">0.04</text>
<text x="1523.5" y="372.0">0.02</text>
<text x="1523.5" y="449.0">0.00</text>
<text x="1523.5" y="526.0">-0.02</text>
</g><g class="il" text-anchor="middle">
<text x="1592.9" y="640.2">1500</text>
<text x="1696.1" y="640.2">1510</text>
<text x="1799.3" y="640.2">1520</text>
<text x="1902.5" y="640.2">1530</text>
<text x="2005.7" y="640.2">1540</text>
</g>
<clipPath id="ic"><rect x="1572.5" y="283" width="525" height="278"/></clipPath>
<g clip-path="url(#ic)">
<path class="ic" stroke="#525252" d="M1575.0,448.8 L1587.5,450.3 L1603.0,451.4 L1608.5,451.2 L1615.0,450.0 L1629.0,446.4 L1649.0,440.1 L1668.5,435.2 L1673.5,433.2 L1685.0,427.6 L1701.5,420.8 L1715.0,415.7 L1730.5,410.7 L1756.0,403.2 L1770.5,400.1 L1779.0,399.3 L1803.0,399.3 L1806.5,399.8 L1811.5,401.6 L1822.0,406.5 L1826.0,407.8 L1839.5,410.7 L1861.0,414.0 L1867.0,415.3 L1872.5,417.4 L1886.0,423.6 L1910.5,432.1 L1921.5,436.4 L1926.5,437.8 L1936.5,439.4 L1947.5,440.4 L1966.5,440.8 L2058.0,441.0 L2095.0,441.5"/>
<path class="ic" stroke="#0066DD" stroke-width="11" d="M1575.0,436.0 L1587.5,438.5 L1597.5,439.8 L1617.0,440.8 L1633.0,441.0 L1659.0,440.0 L1713.0,439.3 L1740.5,438.5 L1793.5,432.9 L1801.0,432.5 L1806.5,433.1 L1819.0,435.9 L1831.0,437.4 L1843.0,438.4 L1860.5,439.1 L2018.0,442.4 L2036.5,442.5 L2095.0,441.5"/>
<path class="ic" stroke="#00AF6E" stroke-width="11" d="M1575.0,433.5 L1615.5,439.8 L1623.0,440.7 L1629.0,441.0 L1636.5,440.8 L1657.5,439.0 L1697.5,439.5 L1719.0,439.3 L1761.5,437.9 L1788.5,436.3 L1800.0,436.0 L1806.5,436.6 L1823.5,439.9 L1843.0,441.0 L1985.5,440.2 L2006.5,439.8 L2059.5,438.0 L2076.5,438.6 L2095.0,440.5"/>
<path class="ic" stroke="#FF0000" stroke-width="12.7" d="M1575.0,431.5 L1591.5,434.6 L1611.5,437.7 L1628.0,438.9 L1651.5,439.4 L1666.0,442.0 L1671.0,442.5 L1677.0,442.3 L1692.5,440.8 L1709.0,440.5 L1728.0,440.4 L1780.0,441.3 L1785.5,440.5 L1797.5,437.5 L1802.5,437.0 L1807.0,437.6 L1818.5,441.2 L1824.0,442.0 L1828.5,441.4 L1840.0,437.6 L1845.0,436.8 L1850.5,437.1 L1864.5,439.3 L1885.0,440.4 L1891.0,440.2 L1904.0,438.4 L1909.5,438.0 L1936.0,439.3 L2005.0,440.4 L2013.0,440.3 L2033.0,439.0 L2062.0,439.3 L2095.0,439.0"/>
</g>
</svg></body></html>
